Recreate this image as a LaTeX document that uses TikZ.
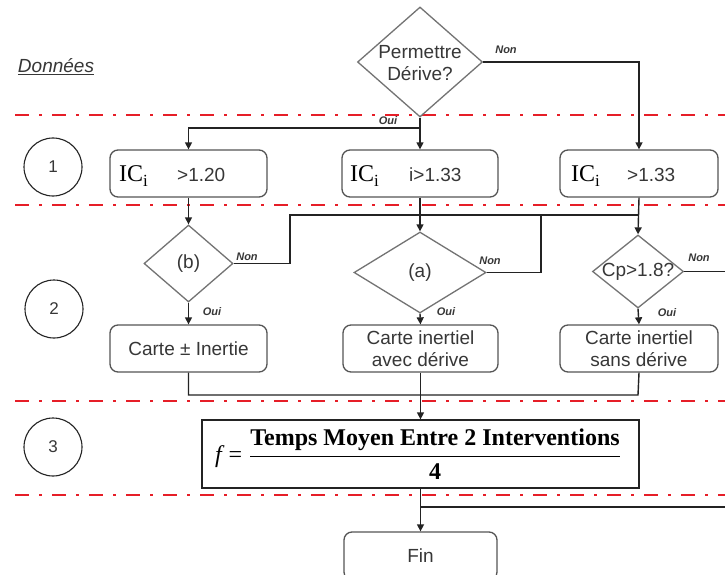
\documentclass[tikz,border=0pt]{standalone}
\usepackage{fontspec}
\setmainfont{Liberation Sans}
\newfontfamily\seriff{Liberation Serif}
\usetikzlibrary{arrows.meta,shapes.geometric}
\definecolor{tx}{RGB}{55,55,55}
\definecolor{bd}{RGB}{85,85,85}
\definecolor{dd}{RGB}{115,115,115}
\definecolor{ln}{RGB}{35,35,35}
\definecolor{rd}{RGB}{230,30,40}
\begin{document}
\begin{tikzpicture}[x=1pt,y=-1pt,
  box/.style={draw=bd, line width=1.3pt, rounded corners=8pt, minimum width=157, minimum height=47, inner sep=0pt, fill=white},
  dia/.style={draw=dd, line width=1.3pt, diamond, inner sep=0pt},
  txt/.style={text=tx, font=\fontsize{19}{22}\selectfont, align=center, inner sep=0pt},
  ictxt/.style={text=black, font=\seriff\fontsize{24}{26}\selectfont, inner sep=0pt, anchor=base west},
  valtxt/.style={text=tx, font=\fontsize{19}{22}\selectfont, inner sep=0pt, anchor=base west},
  lab/.style={text=tx, font=\fontsize{11}{12}\selectfont\bfseries\itshape, inner sep=0pt},
  num/.style={draw=ln, circle, line width=1.1pt, minimum size=58, inner sep=0pt, font=\fontsize{17}{18}\selectfont, text=tx},
  sepline/.style={draw=rd, line width=2.5pt, dash pattern=on 14pt off 10pt on 3pt off 10pt},
  con/.style={draw=ln, line width=1.4pt},
  arr/.style={con, -{Triangle[length=7pt,width=7pt]}}
]
\useasboundingbox (0,0) rectangle (725,575);
\clip (0,0) rectangle (725,575);
\fill[white] (0,0) rectangle (725,575);

% separators
\draw[sepline] (15,115) -- (725,115);
\draw[sepline] (15,205) -- (725,205);
\draw[sepline] (15,401) -- (725,401);
\draw[sepline] (15,495) -- (725,495);

% labels on the left
\node[text=tx, font=\fontsize{19}{22}\selectfont\itshape, inner sep=0pt] (dn) at (56,67) {\underline{Données}};
\node[num] (n1) at (53,167) {1};
\node[num] (n2) at (54,309) {2};
\node[num] (n3) at (53,447) {3};

% top decision
\node[dia, minimum width=125, minimum height=110] (d0) at (420,62) {};
\node[txt] (d0t) at (420,63) {Permettre\\Dérive?};

% row 1
\node[box] (b1) at (188.5,173.5) {};
\node[box, minimum width=156] (b2) at (420,173.5) {};
\node[box, minimum width=158] (b3) at (639,173.5) {};
\node[ictxt] (b1ic) at (119,181) {IC\raisebox{-5pt}{\fontsize{17}{17}\selectfont i}};
\node[valtxt] (b1v) at (177,181) {>1.20};
\node[ictxt] (b2ic) at (350,181) {IC\raisebox{-5pt}{\fontsize{17}{17}\selectfont i}};
\node[valtxt] (b2v) at (409,181) {i>1.33};
\node[ictxt] (b3ic) at (571,181) {IC\raisebox{-5pt}{\fontsize{17}{17}\selectfont i}};
\node[valtxt] (b3v) at (627,181) {>1.33};

% row 2 decisions
\node[dia, minimum width=89, minimum height=77] (db) at (188.5,263.5) {};
\node[txt] (dbt) at (188.5,263.5) {(b)};
\node[dia, minimum width=132, minimum height=81] (da) at (420,272.5) {};
\node[txt] (dat) at (420,272.5) {(a)};
\node[dia, minimum width=91, minimum height=73] (dc) at (638,271.5) {};
\node[txt] (dct) at (638,272) {Cp>1.8?};

% row 2 boxes
\node[box] (c1) at (188.5,348.5) {};
\node[txt] (c1t) at (188.5,349) {Carte ± Inertie};
\node[box, minimum width=155] (c2) at (420.5,348.5) {};
\node[txt] (c2t) at (420.5,349) {Carte inertiel\\avec dérive};
\node[box, minimum width=158] (c3) at (639,348.5) {};
\node[txt] (c3t) at (639,349) {Carte inertiel\\sans dérive};

% formula
\node[draw=ln, line width=1.3pt, minimum width=437, minimum height=68, inner sep=0pt, fill=white] (fb) at (420.5,454) {};
\node[inner sep=0pt, font=\seriff\fontsize{24}{28}\selectfont] (ft) at (418,454)
  {$\displaystyle\mbox{\itshape f}\;\mbox{=}\;\frac{\mbox{\bfseries Temps Moyen Entre 2 Interventions}}{\mbox{\bfseries 4}}$};

% end
\node[box, minimum width=153, minimum height=48] (fin) at (420.5,556) {};
\node[txt] (fint) at (420.5,556) {Fin};

% connectors from top decision
\draw[arr] (d0.east) -| (b3.north);
\node[lab] (l0n) at (506,50) {Non};
\draw[arr] (d0.south) -- (b2.north);
\coordinate (j0) at (420,128);
\draw[arr] (j0) -| (b1.north);
\node[lab] (l0o) at (388,121) {Oui};

% row 1 to row 2
\draw[arr] (b1.south) -- (db.north);
\draw[arr] (b2.south) -- (da.north);
\draw[arr] (b3.south) -- (dc.north);

% Non branches
\coordinate (jb) at (290,215);
\coordinate (j3) at (638,215);
\coordinate (ja) at (541,215);
\coordinate (jc) at (725,271.5);
\draw[con] (db.east) -| (jb) -- (j3);
\draw[con] (da.east) -| (ja);
\draw[con] (dc.east) -- (jc);
\node[lab] (lbn) at (247,257) {Non};
\node[lab] (lan) at (490,261) {Non};
\node[lab] (lcn) at (699,258) {Non};

% Oui branches
\draw[arr] (db.south) -- (c1.north);
\draw[arr] (da.south) -- (c2.north);
\draw[arr] (dc.south) -- (c3.north);
\node[lab] (lbo) at (212,312) {Oui};
\node[lab] (lao) at (446,312) {Oui};
\node[lab] (lco) at (667,313) {Oui};

% merge to formula
\coordinate (k1) at (188.5,395);
\coordinate (k3) at (638,395);
\draw[con] (c1.south) -- (k1) -- (k3) -- (c3.south);
\draw[arr] (c2.south) -- (fb.north);

% to end
\draw[arr] (fb.south) -- (fin.north);
\coordinate (k4) at (420.5,507);
\coordinate (k5) at (725,507);
\draw[con] (k4) -- (k5);
\end{tikzpicture}
\end{document}
